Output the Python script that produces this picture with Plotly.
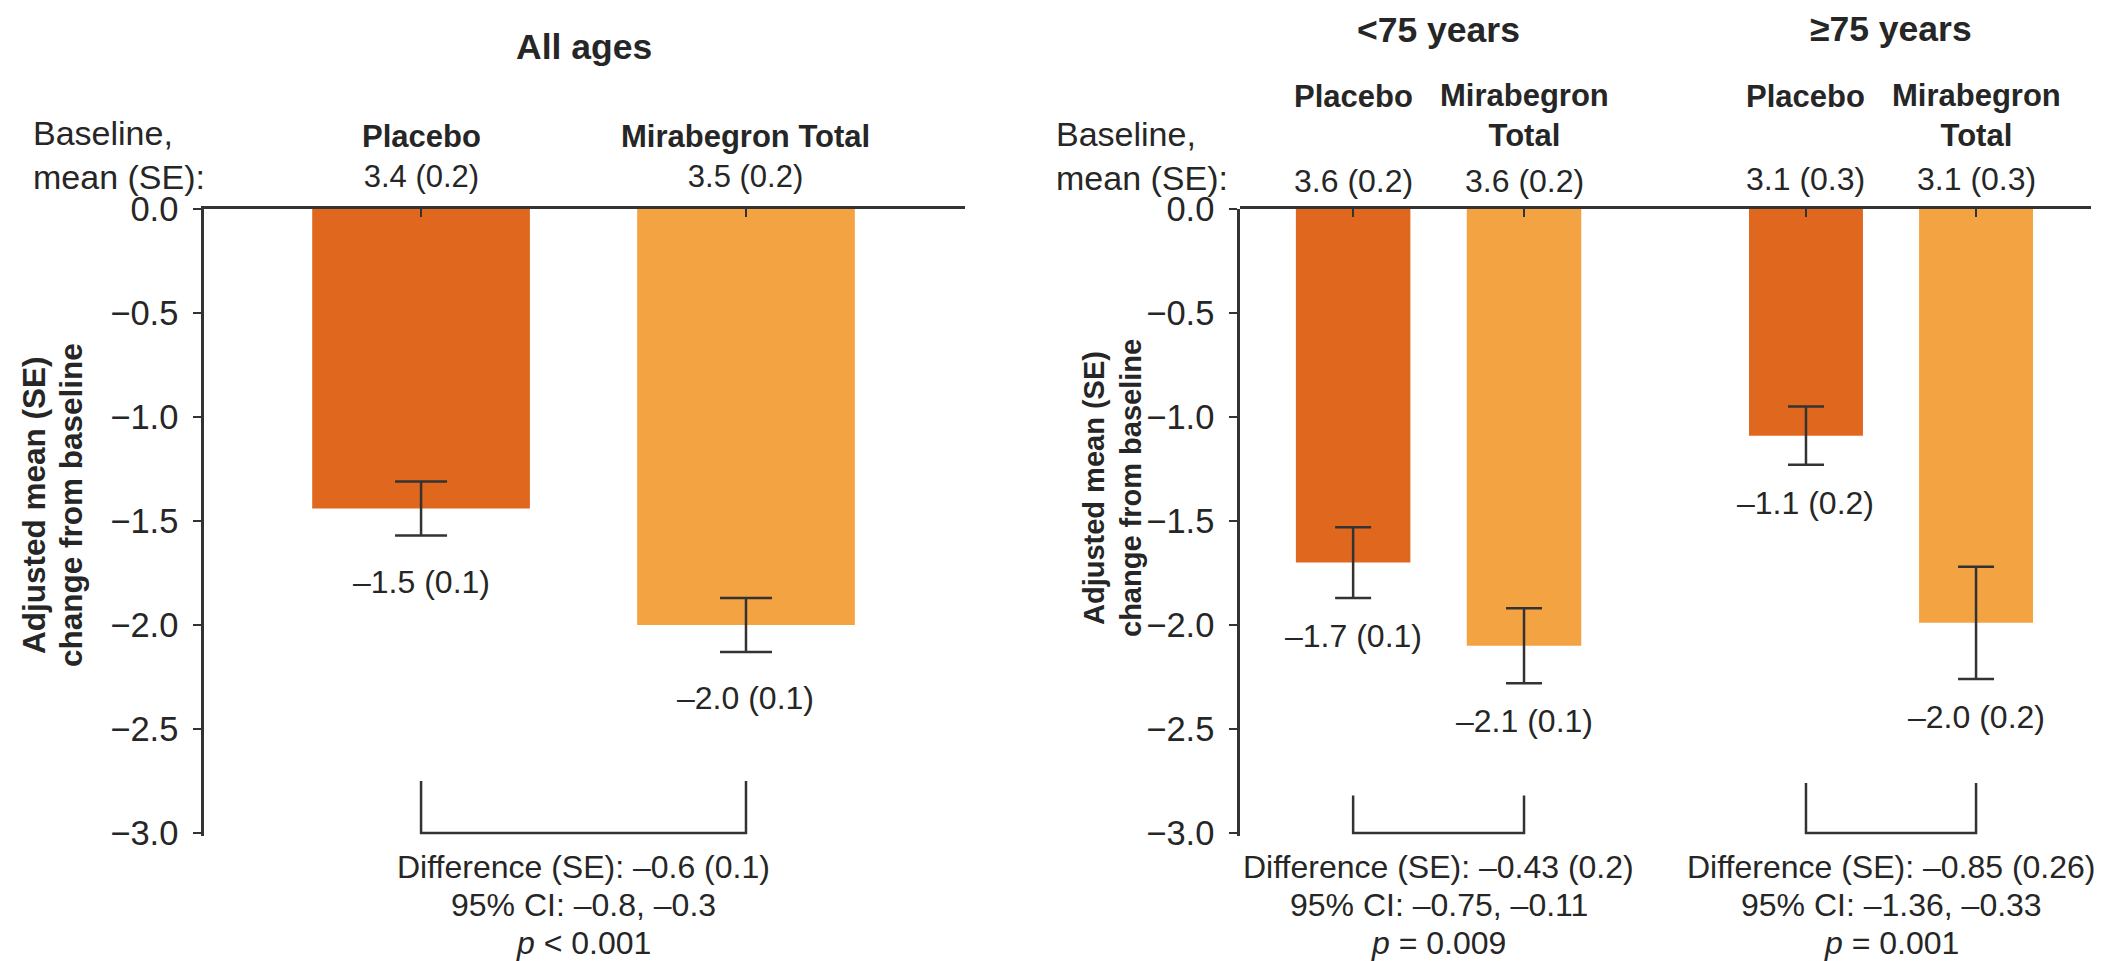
import plotly.graph_objects as go

# ---------------- data ----------------
panels = ["All ages", "<75 years", "≥75 years"]
arms = ["Placebo", "Mirabegron Total"]
placebo_mean = [-1.44, -1.70, -1.09]
mirabegron_mean = [-2.00, -2.10, -1.99]
placebo_err = [0.13, 0.17, 0.14]
mirabegron_err = [0.13, 0.18, 0.27]
placebo_label = ["–1.5 (0.1)", "–1.7 (0.1)", "–1.1 (0.2)"]
mirabegron_label = ["–2.0 (0.1)", "–2.1 (0.1)", "–2.0 (0.2)"]
placebo_baseline = ["3.4 (0.2)", "3.6 (0.2)", "3.1 (0.3)"]
mirabegron_baseline = ["3.5 (0.2)", "3.6 (0.2)", "3.1 (0.3)"]
diff_line1 = ["Difference (SE): –0.6 (0.1)", "Difference (SE): –0.43 (0.2)",
              "Difference (SE): –0.85 (0.26)"]
diff_line2 = ["95% CI: –0.8, –0.3", "95% CI: –0.75, –0.11", "95% CI: –1.36, –0.33"]
diff_line3 = ["<i>p</i> &lt; 0.001", "<i>p</i> = 0.009", "<i>p</i> = 0.001"]
y_ticks = [0.0, -0.5, -1.0, -1.5, -2.0, -2.5, -3.0]

# ---------------- styles ----------------
W, H = 2103, 961
FONT = "Liberation Sans, Arial, Helvetica, sans-serif"
TXT = "#262626"
LINE = "#333333"
C_PLA = "#E0681E"
C_MIR = "#F4A342"


def px(x):
    return x / W


def py(y):
    return 1 - y / H


xnames = ["x", "x2", "x3"]
ynames = ["y", "y", "y2"]
cap_half = [26, 18, 18]
label_shift = [-46, -38, -38]
bracket_top = [-2.75, -2.82, -2.76]
title_y = [47, 30, 29]
header_text = [["Placebo", "Mirabegron Total"],
               ["Placebo", "Mirabegron<br>Total"],
               ["Placebo", "Mirabegron<br>Total"]]
header_y = [[137, 137], [97, 116], [97, 116]]
baseline_y = [177, 181, 179]
diff_y = [867, 905, 943]

FS_TXT = 32
FS_HEAD = 31
FS_TITLE = 35.5
FS_BASE = 34
FS_TICK = 34.5

fig = go.Figure()
ann = []


def add_text(text, x, y, xref="paper", yref="paper", size=FS_TXT, bold=False,
             xanchor="center", yanchor="middle", **kw):
    if bold:
        text = "<b>" + text + "</b>"
    ann.append(dict(text=text, x=x, y=y, xref=xref, yref=yref, showarrow=False,
                    xanchor=xanchor, yanchor=yanchor, borderpad=0,
                    font=dict(size=size, color=TXT, family=FONT), **kw))


for i in range(3):
    xa, ya = xnames[i], ynames[i]
    means = [placebo_mean[i], mirabegron_mean[i]]
    errs = [placebo_err[i], mirabegron_err[i]]
    labels = [placebo_label[i], mirabegron_label[i]]
    bases = [placebo_baseline[i], mirabegron_baseline[i]]
    for j, (m, e, c) in enumerate(zip(means, errs, [C_PLA, C_MIR])):
        fig.add_trace(go.Bar(
            x=[arms[j]], y=[m], width=0.67, marker=dict(color=c, line=dict(width=0)),
            error_y=dict(type="data", array=[e], width=cap_half[i], thickness=2.5, color=LINE),
            xaxis=xa, yaxis=ya, showlegend=False, hoverinfo="skip",
        ))
        # value label under the error bar
        add_text(labels[j], arms[j], m - e, xref=xa, yref=ya, yshift=label_shift[i])
        # column header and baseline value
        if i == 0:
            add_text("<b>" + header_text[i][j] + "</b><br>" + bases[j], arms[j],
                     py((header_y[i][j] + baseline_y[i]) / 2), xref=xa, size=FS_HEAD)
        else:
            add_text(header_text[i][j], arms[j], py(header_y[i][j]), xref=xa,
                     size=FS_HEAD, bold=True)
            add_text(bases[j], arms[j], py(baseline_y[i]), xref=xa)
    # bracket joining the two arms
    fig.add_trace(go.Scatter(
        x=[arms[0], arms[0], arms[1], arms[1]],
        y=[bracket_top[i], y_ticks[-1], y_ticks[-1], bracket_top[i]],
        mode="lines", line=dict(color=LINE, width=2.5), xaxis=xa, yaxis=ya,
        showlegend=False, hoverinfo="skip",
    ))
    # panel title
    add_text(panels[i].replace("<", "&lt;"), 0.5, py(title_y[i]), xref=xa,
             size=FS_TITLE, bold=True)
    # difference statistics
    for t, yy in zip([diff_line1[i], diff_line2[i], diff_line3[i]], diff_y):
        add_text(t, 0.5, py(yy), xref=xa)

# baseline row labels
for xl, yb in [(32, 155.5), (1055, 156.5)]:
    add_text("Baseline,<br>mean (SE):", px(xl), py(yb), size=FS_BASE, xanchor="left",
             align="left")

# y-axis titles (two rotated lines each)
for (x1, x2), yc, fs in [((34, 71), 505, 31.5), ((1094, 1131), 488, 29)]:
    add_text("Adjusted mean (SE)", px(x1), py(yc), size=fs, bold=True, textangle=-90)
    add_text("change from baseline", px(x2), py(yc), size=fs, bold=True, textangle=-90)

xcommon = dict(type="category", side="top", showline=True, linewidth=2.5, linecolor=LINE,
               ticks="inside", ticklen=8, tickwidth=2, tickcolor=LINE, showticklabels=False,
               showgrid=False, zeroline=False, fixedrange=True, automargin=False)
ycommon = dict(range=[-3.015, 0], domain=[py(836), py(209)], showline=True, linewidth=2.5,
               linecolor=LINE, ticks="outside", ticklen=8, tickwidth=2, tickcolor=LINE,
               tickvals=y_ticks, tickformat=".1f", showgrid=False, zeroline=False,
               ticklabelstandoff=8, tickfont=dict(size=FS_TICK, color=TXT, family=FONT),
               fixedrange=True, automargin=False)

fig.update_layout(
    template="none",
    width=W, height=H, autosize=False,
    margin=dict(l=0, r=0, t=0, b=0, pad=0, autoexpand=False),
    paper_bgcolor="white", plot_bgcolor="white",
    barmode="overlay", showlegend=False,
    xaxis=dict(xcommon, domain=[px(204), px(965)], anchor="y", range=[-0.668, 1.674]),
    xaxis2=dict(xcommon, domain=[px(1240), px(1665)], anchor="y2", range=[-0.662, 1.825]),
    xaxis3=dict(xcommon, domain=[px(1665), px(2091)], anchor="y2", range=[-0.829, 1.676]),
    yaxis=dict(ycommon, anchor="x"),
    yaxis2=dict(ycommon, anchor="x2"),
    annotations=ann,
    font=dict(family=FONT, color=TXT),
)

fig.write_html(
    "out.html",
    config={"displayModeBar": False, "responsive": False},
    post_script=(
        "document.body.style.margin='0';document.body.style.padding='0';"
        "document.body.style.overflow='hidden';"
    ),
)
